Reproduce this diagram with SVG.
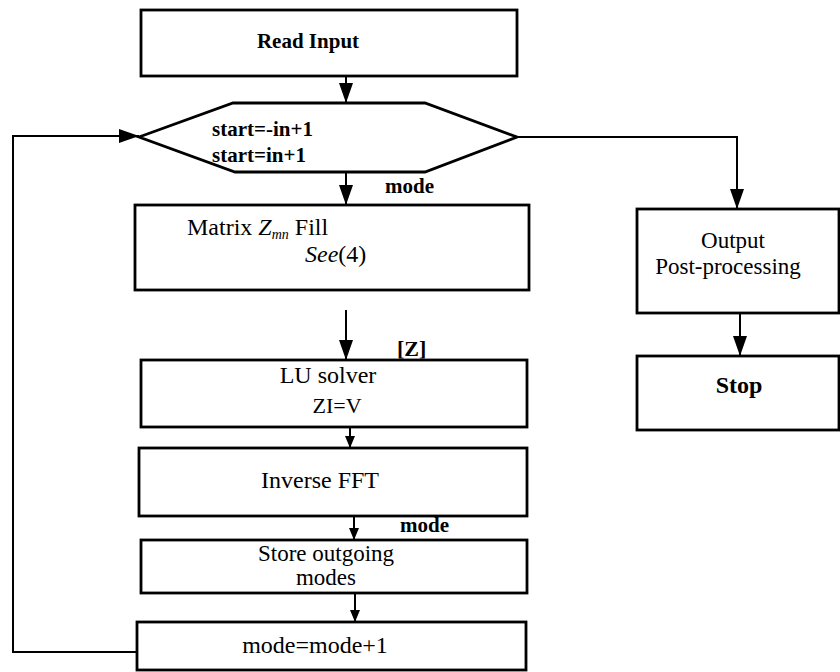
<svg xmlns="http://www.w3.org/2000/svg" width="840" height="672" viewBox="0 0 840 672">
<style>
.box{fill:#fff;stroke:#000;stroke-width:2.8}
.ln{fill:none;stroke:#000;stroke-width:2}
.t{font-family:"Liberation Serif","Times New Roman",serif;font-size:24px;fill:#000}
.b{font-weight:bold;font-size:21px}
.big{marker-end:url(#ah)}
.sm{marker-end:url(#as)}
</style>
<defs>
<marker id="ah" markerUnits="userSpaceOnUse" markerWidth="20" markerHeight="14" refX="20" refY="7" orient="auto">
<path d="M0,0 L20,7 L0,14 Z" fill="#000"/>
</marker>
<marker id="as" markerUnits="userSpaceOnUse" markerWidth="12" markerHeight="10" refX="12" refY="5" orient="auto">
<path d="M0,0 L12,5 L0,10 Z" fill="#000"/>
</marker>
</defs>
<rect width="840" height="672" fill="#fff"/>
<g id="connectors">
<path class="ln big" d="M346,76 V103"/>
<path class="ln big" d="M346,172 V205"/>
<path class="ln big" d="M346,310 V360"/>
<path class="ln sm" d="M350,427 V448"/>
<path class="ln sm" d="M354,516 V540"/>
<path class="ln sm" d="M355,593 V622"/>
<path class="ln big" d="M137,652 H13 V136 H139"/>
<path class="ln big" d="M517,137 H737 V209"/>
<path class="ln big" d="M740,313 V356"/>
</g>
<g id="read-input">
<rect class="box" x="141" y="10" width="376" height="66"/>
<text class="t b" x="308" y="48" text-anchor="middle">Read Input</text>
</g>
<g id="loop-decision">
<polygon class="box" points="139,137 233,103 425,103 517,137 425,172 235,172"/>
<text class="t b" x="212" y="136">start=-in+1</text>
<text class="t b" x="212" y="162">start=in+1</text>
</g>
<g id="label-mode-1"><text class="t b" x="385" y="193">mode</text></g>
<g id="matrix-fill">
<rect class="box" x="135" y="205" width="394" height="85"/>
<text class="t" x="187" y="235">Matrix <tspan font-style="italic">Z</tspan><tspan font-style="italic" style="font-size:14px" dy="4">mn</tspan><tspan dy="-4"> Fill</tspan></text>
<text class="t" x="305" y="262"><tspan font-style="italic">See</tspan>(4)</text>
</g>
<g id="label-z"><text class="t b" x="397" y="356" style="font-size:22px">[Z]</text></g>
<g id="lu-solver">
<rect class="box" x="141" y="360" width="386" height="67"/>
<text class="t" x="328" y="383" text-anchor="middle">LU solver</text>
<text class="t" x="337" y="413" text-anchor="middle" style="font-size:22px">ZI=V</text>
</g>
<g id="inverse-fft">
<rect class="box" x="139" y="448" width="388" height="68"/>
<text class="t" x="320" y="488" text-anchor="middle">Inverse FFT</text>
</g>
<g id="label-mode-2"><text class="t b" x="400" y="532">mode</text></g>
<g id="store-modes">
<rect class="box" x="141" y="540" width="386" height="53"/>
<text class="t" x="326" y="561" text-anchor="middle" style="font-size:23px">Store outgoing</text>
<text class="t" x="326" y="585" text-anchor="middle" style="font-size:23px">modes</text>
</g>
<g id="mode-increment">
<rect class="box" x="137" y="622" width="389" height="48"/>
<text class="t" x="315" y="653" text-anchor="middle">mode=mode+1</text>
</g>
<g id="output">
<rect class="box" x="637" y="209" width="202" height="104"/>
<text class="t" x="733" y="248" text-anchor="middle" style="font-size:23px">Output</text>
<text class="t" x="728" y="274" text-anchor="middle" style="font-size:23px">Post-processing</text>
</g>
<g id="stop">
<rect class="box" x="637" y="356" width="202" height="74"/>
<text class="t b" x="739" y="393" text-anchor="middle" style="font-size:24px">Stop</text>
</g>
</svg>
